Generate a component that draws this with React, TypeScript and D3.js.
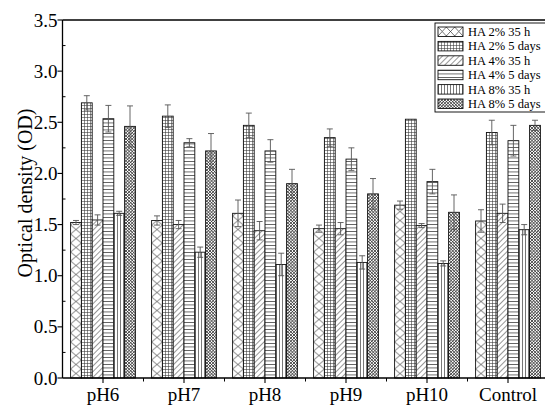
import React from "react";
import * as d3 from "d3";

const categories = ["pH6", "pH7", "pH8", "pH9", "pH10", "Control"];
const seriesNames = ["HA 2% 35 h", "HA 2% 5 days", "HA 4% 35 h", "HA 4% 5 days", "HA 8% 35 h", "HA 8% 5 days"];
const ha2_35h = [1.52, 1.54, 1.61, 1.46, 1.69, 1.535];
const ha2_35hErr = [0.02, 0.045, 0.13, 0.035, 0.04, 0.11];
const ha2_5d = [2.69, 2.56, 2.47, 2.35, 2.53, 2.4];
const ha2_5dErr = [0.07, 0.11, 0.12, 0.085, 0.0, 0.12];
const ha4_35h = [1.545, 1.5, 1.44, 1.46, 1.49, 1.61];
const ha4_35hErr = [0.05, 0.04, 0.09, 0.06, 0.02, 0.09];
const ha4_5d = [2.535, 2.3, 2.22, 2.14, 1.92, 2.32];
const ha4_5dErr = [0.13, 0.04, 0.11, 0.11, 0.12, 0.15];
const ha8_35h = [1.61, 1.23, 1.11, 1.13, 1.12, 1.45];
const ha8_35hErr = [0.02, 0.05, 0.11, 0.065, 0.025, 0.05];
const ha8_5d = [2.46, 2.22, 1.9, 1.8, 1.62, 2.47];
const ha8_5dErr = [0.2, 0.17, 0.14, 0.15, 0.17, 0.05];
const yTicks = [0, 0.5, 1, 1.5, 2, 2.5, 3, 3.5];

const seriesValues = [ha2_35h, ha2_5d, ha4_35h, ha4_5d, ha8_35h, ha8_5d];
const seriesErrs = [ha2_35hErr, ha2_5dErr, ha4_35hErr, ha4_5dErr, ha8_35hErr, ha8_5dErr];

const W = 545;
const H = 406;
const left = 62.5;
const right = 548.5;
const top = 20;
const bottom = 378;
const font = "'Liberation Serif', 'Times New Roman', serif";

export default function App() {
  const x = d3.scaleBand<string>().domain(categories).range([left, right]).paddingInner(0.2).paddingOuter(0.1);
  const xs = d3.scaleBand<string>().domain(seriesNames).range([0, x.bandwidth()]).padding(0);
  const y = d3.scaleLinear().domain([0, 3.5]).range([bottom, top]);
  const bw = xs.bandwidth();
  const minorY = d3.range(0, 3.5001, 0.25).filter((v) => Math.abs((v * 2) % 1) > 0.01);
  const step = x.step();

  const fills = (si: number, ci: number) => {
    if (si === 0) return `url(#px${ci})`;
    return `url(#p${si})`;
  };

  const legendX = 435;
  const legendY = 23;
  const rowH = 14.4;

  return (
    <svg width={W} height={H} style={{ position: "absolute", left: 0, top: 0, background: "#fff" }}>
      <defs>
        {categories.map((c, ci) => (
          <pattern key={c} id={`px${ci}`} patternUnits="userSpaceOnUse" x={(x(c) as number) + (xs(seriesNames[0]) as number)} y={0} width={bw} height={9}>
            <rect width={bw} height={9} fill="#fff" />
            <path d={`M0,0L${bw},9M${bw},0L0,9`} stroke="#333" strokeWidth={0.7} />
          </pattern>
        ))}
        <pattern id="pxl" patternUnits="userSpaceOnUse" x={legendX + 3} y={legendY + 4} width={25 / 3} height={9}>
          <rect width={25 / 3} height={9} fill="#fff" />
          <path d={`M0,0L${25 / 3},9M${25 / 3},0L0,9`} stroke="#333" strokeWidth={0.7} />
        </pattern>
        <pattern id="p1" patternUnits="userSpaceOnUse" width={3} height={3}>
          <rect width={3} height={3} fill="#fff" />
          <path d="M0,0.3H3M0.3,0V3" stroke="#333" strokeWidth={0.7} />
        </pattern>
        <pattern id="p2" patternUnits="userSpaceOnUse" width={4} height={4} patternTransform="rotate(45)">
          <rect width={4} height={4} fill="#fff" />
          <path d="M0.3,0V4" stroke="#444" strokeWidth={0.7} />
        </pattern>
        <pattern id="p3" patternUnits="userSpaceOnUse" width={4} height={3.5}>
          <rect width={4} height={3.5} fill="#fff" />
          <path d="M0,0.4H4" stroke="#333" strokeWidth={0.8} />
        </pattern>
        <pattern id="p4" patternUnits="userSpaceOnUse" width={3} height={4}>
          <rect width={3} height={4} fill="#fff" />
          <path d="M0.5,0V4" stroke="#555" strokeWidth={0.8} />
        </pattern>
        <pattern id="p5" patternUnits="userSpaceOnUse" width={2.2} height={2.2} patternTransform="rotate(45)">
          <rect width={2.2} height={2.2} fill="#fff" />
          <path d="M0,0.3H2.2M0.3,0V2.2" stroke="#333" strokeWidth={0.7} />
        </pattern>
      </defs>

      {/* bars */}
      {categories.map((c, ci) =>
        seriesNames.map((s, si) => {
          const v = seriesValues[si][ci];
          const bx = (x(c) as number) + (xs(s) as number);
          return (
            <rect key={`${c}-${s}`} x={bx} y={y(v)} width={bw} height={y(0) - y(v)} fill={fills(si, ci)} stroke="#111" strokeWidth={0.9} />
          );
        })
      )}

      {/* error bars */}
      {categories.map((c, ci) =>
        seriesNames.map((s, si) => {
          const v = seriesValues[si][ci];
          const e = seriesErrs[si][ci];
          if (e <= 0) return null;
          const cx = (x(c) as number) + (xs(s) as number) + bw / 2;
          return (
            <g key={`e-${c}-${s}`} stroke="#555" strokeWidth={0.9}>
              <line x1={cx} x2={cx} y1={y(v + e)} y2={y(v - e)} />
              <line x1={cx - 3} x2={cx + 3} y1={y(v + e)} y2={y(v + e)} />
              <line x1={cx - 3} x2={cx + 3} y1={y(v - e)} y2={y(v - e)} />
            </g>
          );
        })
      )}

      {/* axes frame */}
      <line x1={left} x2={left} y1={top} y2={bottom} stroke="#000" strokeWidth={1.3} />
      <line x1={left} x2={right} y1={bottom} y2={bottom} stroke="#000" strokeWidth={1.3} />
      <line x1={left} x2={right} y1={top} y2={top} stroke="#000" strokeWidth={1.3} />

      {/* y ticks */}
      {yTicks.map((t) => (
        <g key={t}>
          <line x1={left - 5} x2={left} y1={y(t)} y2={y(t)} stroke="#000" strokeWidth={1.1} />
          <text x={left - 5} y={y(t) + 6.5} textAnchor="end" fontFamily={font} fontSize={19} fill="#000">
            {d3.format(".1f")(t)}
          </text>
        </g>
      ))}
      {minorY.map((t) => (
        <line key={`m${t}`} x1={left} x2={left + 3} y1={y(t)} y2={y(t)} stroke="#000" strokeWidth={1} />
      ))}

      {/* x ticks */}
      {categories.map((c) => {
        const cx = (x(c) as number) + x.bandwidth() / 2;
        return (
          <g key={c}>
            <line x1={cx} x2={cx} y1={bottom} y2={bottom + 5} stroke="#000" strokeWidth={1.1} />
            <text x={cx} y={bottom + 23} textAnchor="middle" fontFamily={font} fontSize={19} fill="#000">
              {c}
            </text>
          </g>
        );
      })}
      {d3.range(1, categories.length).map((i) => (
        <line key={`mx${i}`} x1={left + i * step} x2={left + i * step} y1={bottom} y2={bottom + 3.5} stroke="#000" strokeWidth={1} />
      ))}

      {/* y label */}
      <text transform={`translate(32,${(top + bottom) / 2 - 6}) rotate(-90)`} textAnchor="middle" fontFamily={font} fontSize={20} fill="#000">
        Optical density (OD)
      </text>

      {/* legend */}
      <rect x={legendX} y={legendY} width={114} height={89} fill="#fff" stroke="#000" strokeWidth={0.9} />
      {seriesNames.map((s, si) => {
        const ry = legendY + 4 + si * rowH;
        return (
          <g key={s}>
            <rect x={legendX + 3} y={ry} width={25} height={9.5} fill={si === 0 ? "url(#pxl)" : `url(#p${si})`} stroke="#111" strokeWidth={0.9} />
            <text x={legendX + 33} y={ry + 9} fontFamily={font} fontSize={12.5} fill="#000">
              {s}
            </text>
          </g>
        );
      })}
    </svg>
  );
}
